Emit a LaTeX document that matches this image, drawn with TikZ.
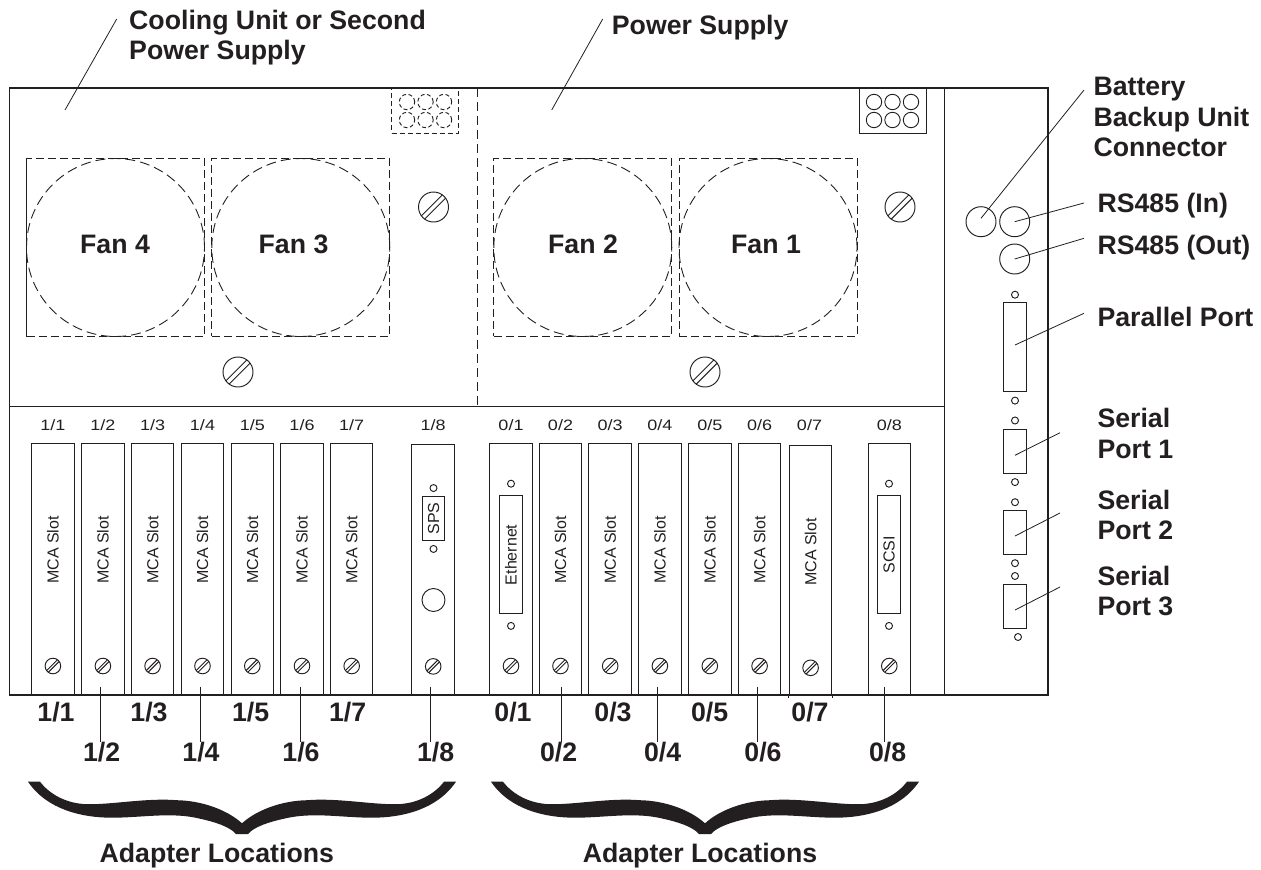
\documentclass[tikz,border=0pt]{standalone}
\usepackage{fontspec}
\setmainfont{Liberation Sans}
\newfontfamily\stickfont[FakeStretch=1.2]{Liberation Sans}
\usetikzlibrary{positioning}
\definecolor{inkblack}{HTML}{231F20}

\begin{document}
\begin{tikzpicture}[
    x=1pt,
    y=-1pt,
    every node/.style={text=inkblack},
    frameline/.style={draw=inkblack, line width=1.5pt},
    partline/.style={draw=inkblack, line width=0.95pt},
    leader/.style={draw=inkblack, line width=0.8pt},
    fanbox/.style={
        draw=inkblack,
        line width=0.9pt,
        dash pattern=on 8pt off 4pt,
        minimum width=178pt,
        minimum height=177.5pt,
        inner sep=0pt
    },
    fanring/.style={
        circle,
        draw=inkblack,
        line width=0.9pt,
        dash pattern=on 10pt off 5pt,
        minimum size=178pt,
        inner sep=0pt
    },
    pluggrid/.style={
        draw=inkblack,
        line width=0.9pt,
        minimum width=67pt,
        minimum height=45pt,
        inner sep=0pt
    },
    plughole/.style={
        circle,
        draw=inkblack,
        line width=0.9pt,
        minimum size=15.4pt,
        inner sep=0pt
    },
    slotbox/.style={
        partline,
        minimum width=42.5pt,
        minimum height=251.3pt,
        inner sep=0pt
    },
    slottext/.style={
        rotate=90,
        inner sep=0pt,
        font=\fontsize{16}{18}\selectfont
    },
    slottag/.style={
        inner sep=0pt,
        font=\fontsize{15}{17}\selectfont\stickfont
    },
    cardport/.style={
        partline,
        minimum width=22.4pt,
        minimum height=118.3pt,
        inner sep=0pt
    },
    pinhole/.style={
        circle,
        partline,
        minimum size=7pt,
        inner sep=0pt
    },
    jack/.style={
        circle,
        partline,
        minimum size=30pt,
        inner sep=0pt
    },
    dshell/.style={
        partline,
        minimum width=22.4pt,
        minimum height=44.5pt,
        inner sep=0pt
    },
    callout/.style={
        anchor=west,
        align=left,
        inner sep=0pt,
        font=\fontsize{26.7}{30.5}\selectfont\bfseries
    },
    bigtag/.style={
        inner sep=0pt,
        font=\fontsize{26.7}{30.5}\selectfont\bfseries
    },
    pics/screw/.style={code={
        \draw[partline] (0,0) circle[radius=#1];
        \draw[partline] (54:#1pt) -- (216:#1pt);
        \draw[partline] (36:#1pt) -- (234:#1pt);
    }},
    pics/halfbrace/.style={code={
        \fill[inkblack] (-214,0) .. controls (-195,28) and (-160,36) .. (-130,36)
            .. controls (-100,36) and (-70,30) .. (-42,37)
            .. controls (-28,40) and (-12,45) .. (-6,52.3)
            -- (0.4,52.3) -- (0.4,41.6) -- (0,41.6)
            .. controls (-15,28) and (-40,19) .. (-65,18.5)
            .. controls (-95,16) and (-130,23) .. (-155,22.5)
            .. controls (-175,22) and (-192,13) .. (-202,0) -- cycle;
    }}
]
    \useasboundingbox (0,0) rectangle (1261,870);

    \foreach \u/\n/\cx/\cy in {
        1/1/52.9/569.4, 1/2/102.9/569.4, 1/3/152.6/569.4, 1/4/202.5/569.4,
        1/5/252.3/569.4, 1/6/302/569.4, 1/7/351.7/569.4, 1/8/433.2/569.8,
        0/1/511/569.4, 0/2/560.5/569.4, 0/3/610.2/569.4, 0/4/659.9/569.4,
        0/5/709.8/569.4, 0/6/759.6/569.4, 0/8/889.3/569.4
    }{
        \node[slotbox] (slot\u\n) at (\cx,\cy) {};
        \node[slottag] (tag\u\n) at (\cx,425) {\u/\n};
        \pic at (\cx,\cy+96.6) {screw=7.8};
    }
    \node[slotbox, minimum height=249.7pt] (slot07) at (810.6,570.4) {};
    \node[slottag] (tag07) at (809.5,425) {0/7};
    \pic at (810.6,667.8) {screw=7.8};
    \draw[partline] (slot07.south west) -- ++(0,2);
    \draw[partline] (slot07.south east) -- ++(0,2);
    \foreach \s in {11,12,13,14,15,16,17,02,03,04,05,06}{
        \node[slottext] (mca\s) at ([yshift=19.5pt]slot\s.center) {MCA Slot};
    }
    \node[slottext] (mca07) at ([yshift=18.4pt]slot07.center) {MCA Slot};

    \draw[frameline] (9.5,88) rectangle (1048,695);
    \draw[partline] (9.5,406) -- (944,406);
    \draw[partline] (944,88) -- (944,695);
    \draw[partline, dash pattern=on 9pt off 5pt] (477,88) -- (477,406);

    \foreach \bid/\cx/\tx/\fan in {
        a/115.5/115/4, b/300.8/293.5/3, c/582.8/583/2, d/768/766/1
    }{
        \node[fanbox] (bay\bid) at (\cx,247.5) {};
        \node[fanring] (ring\bid) at (\cx,247.5) {};
        \node[bigtag] (fan\fan) at (\tx,244) {Fan \fan};
    }
    \draw[partline] (baya.north west) -- (baya.south west);

    \foreach \sx/\sy in {433.5/207, 238/372, 900/207, 705/372}{
        \pic at (\sx,\sy) {screw=15};
    }

    \node[pluggrid, dash pattern=on 5pt off 3pt] (plugleft) at (425,110.5) {};
    \node[pluggrid] (plugright) at (892.5,110.5) {};
    \foreach \hx in {0,18.5,37}{
        \foreach \hy in {102,120}{
            \node[plughole, dash pattern=on 4pt off 2.5pt] at (407+\hx,\hy) {};
            \node[plughole] at (874+\hx,\hy) {};
        }
    }

    \node[partline, minimum width=22.4pt, minimum height=44.4pt, inner sep=0pt] (spsbox) at (433.5,518.5) {};
    \node[slottext] (spstext) at (spsbox) {SPS};
    \node[pinhole, above=3.8pt of spsbox] (spstop) {};
    \node[pinhole, below=3.8pt of spsbox] (spsbottom) {};
    \node[circle, partline, minimum size=23pt, inner sep=0pt] (spsjack) at (433.5,600) {};

    \node[cardport] (etherbox) at (511,554.8) {};
    \node[slottext] (ethertext) at (etherbox) {Ethernet};
    \node[pinhole, above=7.5pt of etherbox] (ethertop) {};
    \node[pinhole, below=7.5pt of etherbox] (etherbottom) {};

    \node[cardport] (scsibox) at (889,554.8) {};
    \node[slottext] (scsitext) at (scsibox) {SCSI};
    \node[pinhole, above=7.5pt of scsibox] (scsitop) {};
    \node[pinhole, below=7.5pt of scsibox] (scsibottom) {};

    \node[jack] (battery) at (981,221.7) {};
    \node[jack] (rsin) at (1014.7,221.7) {};
    \node[jack] (rsout) at (1014.7,259) {};

    \node[dshell, minimum height=88.7pt] (parallel) at (1015,347.3) {};
    \node[pinhole, above=3.8pt of parallel] (paralleltop) {};
    \node[pinhole, below=4.5pt of parallel] (parallelbottom) {};
    \node[dshell] (serialone) at (1015,451.3) {};
    \node[pinhole, above=4.1pt of serialone] (serialonetop) {};
    \node[pinhole, below=4.1pt of serialone] (serialonebottom) {};
    \node[dshell] (serialtwo) at (1015,532.7) {};
    \node[pinhole, above=3.8pt of serialtwo] (serialtwotop) {};
    \node[pinhole, below=3.8pt of serialtwo] (serialtwobottom) {};
    \node[dshell] (serialthree) at (1015,606.5) {};
    \node[pinhole, above=3.8pt of serialthree] (serialthreetop) {};
    \node[pinhole, below=3.8pt of serialthree, xshift=3pt] (serialthreebottom) {};

    \node[callout] (cooling) at (129,37.5) {Cooling Unit or Second\\Power Supply};
    \node[callout] (supply) at (611.7,27.5) {Power Supply};
    \node[callout] (bbu) at (1093.3,117) {Battery\\Backup Unit\\Connector};
    \node[callout] (rsintext) at (1097.3,205.5) {RS485 (In)};
    \node[callout] (rsouttext) at (1097.3,247.5) {RS485 (Out)};
    \node[callout] (paralleltext) at (1097.3,317) {Parallel Port};
    \node[callout] (serialonetext) at (1097.3,433.5) {Serial\\Port 1};
    \node[callout] (serialtwotext) at (1097.3,515) {Serial\\Port 2};
    \node[callout] (serialthreetext) at (1097.3,591) {Serial\\Port 3};

    \coordinate (coolingtip) at (65,110);
    \coordinate (supplytip) at (551.7,110);
    \draw[leader] ([shift={(-12.3,-18.5)}]cooling.west) -- (coolingtip);
    \draw[leader] ([shift={(-9,-8.5)}]supply.west) -- (supplytip);
    \draw[leader] ([shift={(-9.3,-27)}]bbu.west) -- ([yshift=3.4pt]battery.center);
    \draw[leader] ([shift={(-13.3,-2.5)}]rsintext.west) -- (rsin.center);
    \draw[leader] ([shift={(-13.3,-9.2)}]rsouttext.west) -- (rsout.center);
    \draw[leader] ([shift={(-13.3,-3.7)}]paralleltext.west) -- ([yshift=2.3pt]parallel.center);
    \draw[leader] ([shift={(-37.3,-0.8)}]serialonetext.west) -- ([yshift=-4pt]serialone.center);
    \draw[leader] ([shift={(-37.3,-2)}]serialtwotext.west) -- ([yshift=-3.3pt]serialtwo.center);
    \draw[leader] ([shift={(-37.3,-4)}]serialthreetext.west) -- ([yshift=-3.5pt]serialthree.center);

    \foreach \u/\n/\tx in {
        1/1/56, 1/3/149, 1/5/250.7, 1/7/347.7,
        0/1/513, 0/3/613, 0/5/709.7, 0/7/810
    }{
        \node[bigtag] (low\u\n) at (\tx,712) {\u/\n};
    }
    \foreach \u/\n/\tx/\lx in {
        1/2/101.7/100.3, 1/4/201/200, 1/6/301/300.3, 1/8/435.7/430.3,
        0/2/558.7/561.7, 0/4/662.7/657.7, 0/6/763/757.3, 0/8/887.7/884
    }{
        \node[bigtag] (low\u\n) at (\tx,752) {\u/\n};
        \coordinate (lead\u\n) at (\lx,686.7);
        \draw[leader] (lead\u\n) -- (lead\u\n |- low\u\n.north);
    }

    \pic at (242,781.7) {halfbrace};
    \pic[xscale=-1] at (242,781.7) {halfbrace};
    \pic at (705,781.7) {halfbrace};
    \pic[xscale=-1] at (705,781.7) {halfbrace};
    \node[bigtag] (adapterone) at (216.8,855.5) {Adapter Locations};
    \node[bigtag] (adaptertwo) at (700,855.5) {Adapter Locations};
\end{tikzpicture}
\end{document}
